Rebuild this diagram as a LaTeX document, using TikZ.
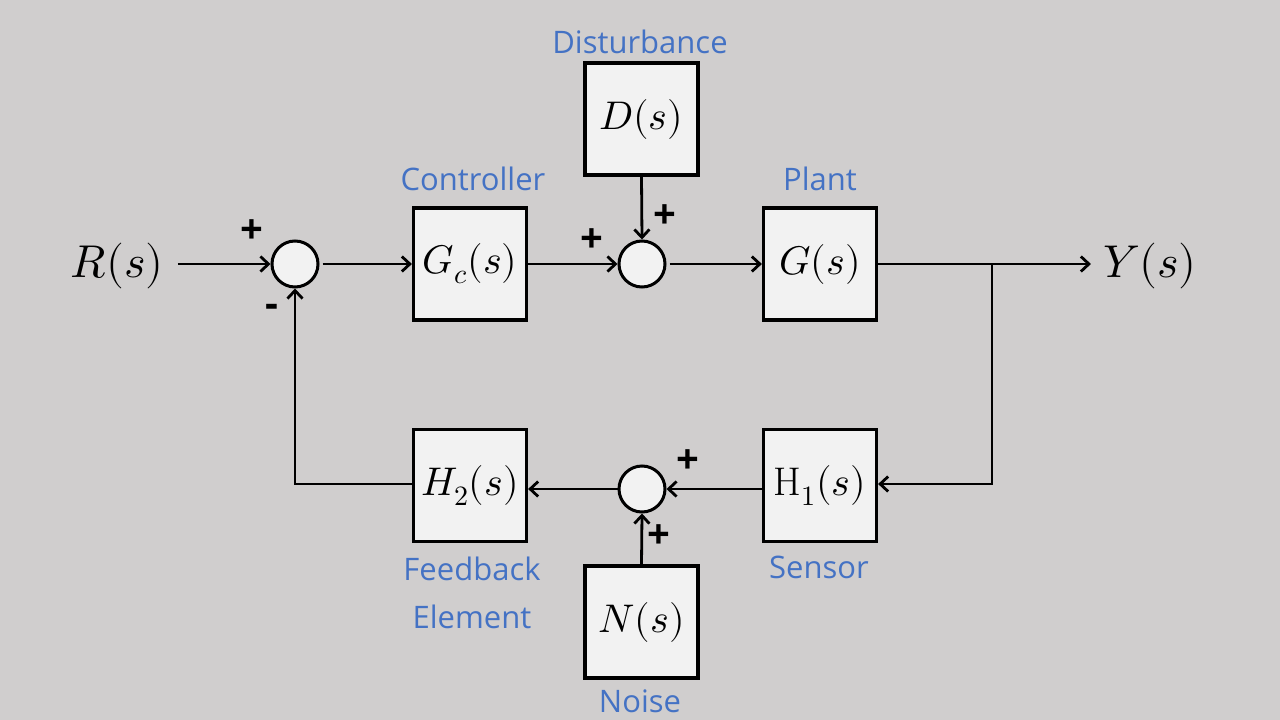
\documentclass[tikz,border=0pt]{standalone}
\usepackage{fontspec}
\usepackage{unicode-math}
\setmathfont{Latin Modern Math}
\setsansfont{Open Sans}
\usetikzlibrary{arrows.meta}
\definecolor{bg}{HTML}{D0CECE}
\definecolor{boxfill}{HTML}{F2F2F2}
\definecolor{lbl}{HTML}{4472C4}
\begin{document}
\begin{tikzpicture}[x=1pt,y=-1pt,
  blk/.style={draw=black, fill=boxfill, line width=3.2pt, minimum width=113pt, minimum height=112pt, inner sep=0pt, font=\fontsize{40}{48}\selectfont},
  sumj/.style={draw=black, fill=boxfill, circle, line width=3pt, minimum size=46pt, inner sep=0pt},
  lab/.style={text=lbl, font=\sffamily\fontsize{31}{48}\selectfont, align=center, inner sep=0pt},
  sgn/.style={font=\sffamily\bfseries\fontsize{40}{42}\selectfont, inner sep=0pt},
  io/.style={font=\fontsize{46}{54}\selectfont, inner sep=0pt},
  wire/.style={line width=2.8pt},
  arr/.style={wire, -{Straight Barb[length=8pt,width=15pt]}}
]
\useasboundingbox (0,0) rectangle (1280,720);
\fill[bg] (0,0) rectangle (1280,720);

% blocks
\node[blk] (gc) at (470,264) {$G_c(s)$};
\node[blk] (d)  at (641.5,119) {$D(s)$};
\node[blk] (g)  at (820,264) {$G(s)$};
\node[blk] (h1) at (820,485.5) {$\mathrm{H}_1(s)$};
\node[blk] (h2) at (470,485.5) {$H_2(s)$};
\node[blk] (n)  at (641.5,622) {$N(s)$};

% summing junctions
\node[sumj] (s1) at (295,264) {};
\node[sumj] (s2) at (642,264) {};
\node[sumj] (s3) at (642,489) {};

% input / output
\node[io, inner xsep=14pt] (r) at (117,266) {$R(s)$};
\node[io, inner xsep=12pt] (y) at (1150,266) {$Y(s)$};

% labels
\node[lab] (ldist) at (640,42) {Disturbance};
\node[lab] (lctrl) at (473,179) {Controller};
\node[lab] (lplant) at (820,179) {Plant};
\node[lab] (lsens) at (819,567) {Sensor};
\node[lab] (lfb) at (472,593) {Feedback\\Element};
\node[lab] (lnoise) at (640,701) {Noise};

% signs
\node[sgn] (p1) at (252,232) {+};
\node[sgn] (m1) at (272,311) {-};
\node[sgn] (p2) at (592,241) {+};
\node[sgn] (p3) at (665,217) {+};
\node[sgn] (p4) at (688,462) {+};
\node[sgn] (p5) at (659,537) {+};

% connectors
\draw[arr] (r.east |- s1) -- (s1.west);
\draw[arr] ([xshift=3pt]s1.east) -- (gc.west);
\draw[arr] (gc.east) -- (s2.west);
\draw[arr] (d.south) -- (s2.north);
\draw[arr] ([xshift=3pt]s2.east) -- (g.west);
\draw[arr] (g.east) -- (g.east -| y.west);
\coordinate (br) at (992,264);
\draw[arr] (br) |- ([yshift=1.5pt]h1.east);
\draw[arr] (h1.west |- s3) -- (s3.east);
\draw[arr] (s3.west) -- (h2.east |- s3);
\draw[arr] (n.north) -- (s3.south);
\draw[arr] ([yshift=1.5pt]h2.west) -| (s1.south);
\end{tikzpicture}
\end{document}
